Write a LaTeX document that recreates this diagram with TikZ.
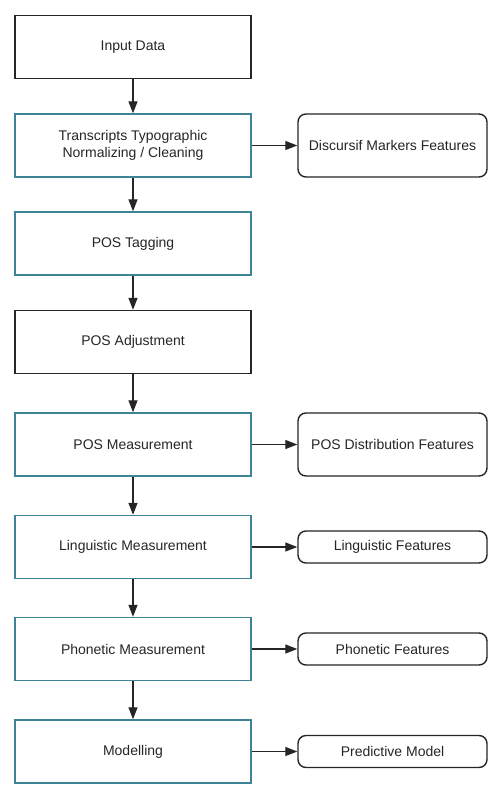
\documentclass[tikz,border=0pt]{standalone}
\usepackage{fontspec}
\setmainfont{Liberation Sans}
\usetikzlibrary{arrows.meta}
\definecolor{tealb}{RGB}{62,132,150}
\begin{document}
\begin{tikzpicture}[x=1pt,y=-1pt,
  base/.style={draw,line width=1.4pt,inner sep=0pt,align=center,font=\fontsize{14}{17}\selectfont,text=black!85},
  blackbox/.style={base,draw=black!85,minimum width=236pt,minimum height=63pt},
  tealbox/.style={base,draw=tealb,minimum width=236pt,minimum height=63pt},
  outbox/.style={base,draw=black!85,rounded corners=8pt,minimum width=189pt},
  arr/.style={line width=1.3pt,draw=black!85,-{Triangle[length=12pt,width=9pt]}}]
\useasboundingbox[fill=white] (0,0) rectangle (500,795);
\node[blackbox] (in) at (133,47) {Input Data};
\node[tealbox] (tr) at (133,145.5) {Transcripts Typographic\\Normalizing / Cleaning};
\node[tealbox] (tag) at (133,243.5) {POS Tagging};
\node[blackbox] (adj) at (133,342) {POS Adjustment};
\node[tealbox] (pm) at (133,444.5) {POS Measurement};
\node[tealbox] (lm) at (133,547) {Linguistic Measurement};
\node[tealbox] (phm) at (133,649) {Phonetic Measurement};
\node[tealbox] (mod) at (133,751.5) {Modelling};
\node[outbox,minimum height=63pt] (dm) at (392.5,145.5) {Discursif Markers Features};
\node[outbox,minimum height=63pt] (pd) at (392.5,444.5) {POS Distribution Features};
\node[outbox,minimum height=32pt] (lf) at (392.5,547) {Linguistic Features};
\node[outbox,minimum height=32pt] (pf) at (392.5,649) {Phonetic Features};
\node[outbox,minimum height=32pt] (pr) at (392.5,751.5) {Predictive Model};
\draw[arr] (in) -- (tr);
\draw[arr] (tr) -- (tag);
\draw[arr] (tag) -- (adj);
\draw[arr] (adj) -- (pm);
\draw[arr] (pm) -- (lm);
\draw[arr] (lm) -- (phm);
\draw[arr] (phm) -- (mod);
\draw[arr] (tr) -- (dm);
\draw[arr] (pm) -- (pd);
\draw[arr] (lm) -- (lf);
\draw[arr] (phm) -- (pf);
\draw[arr] (mod) -- (pr);
\end{tikzpicture}
\end{document}
